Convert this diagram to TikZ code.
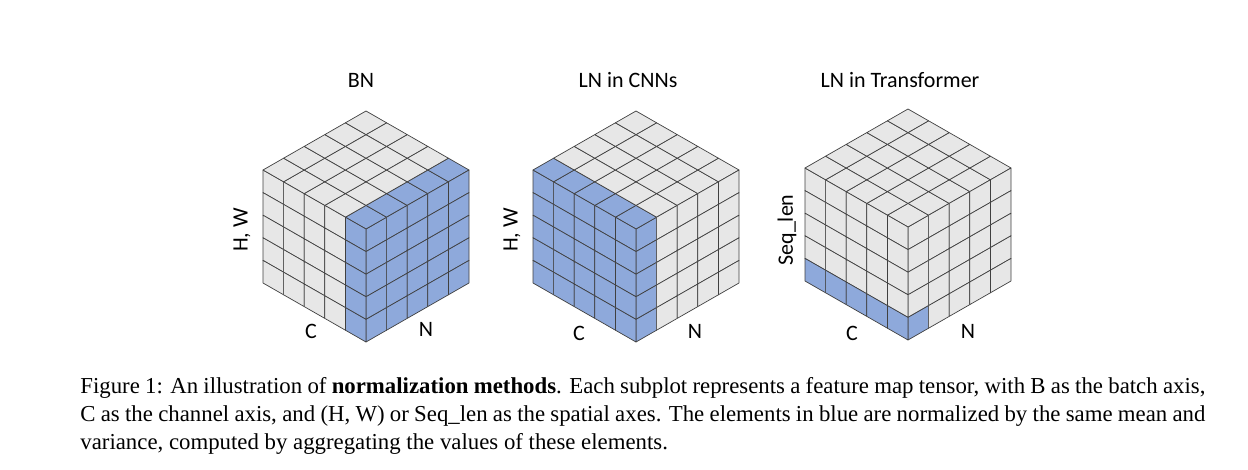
\documentclass[tikz,border=0pt]{standalone}
\usepackage{fontspec}
\setmainfont{Carlito}
\newfontfamily\capfont{Liberation Serif}
\usepackage{tikz}

\definecolor{cellgrey}{HTML}{E7E7E7}
\definecolor{normblue}{HTML}{8EA9DB}
\definecolor{edgegrey}{HTML}{404040}

% #1 front vertex, #2 left face, #3 right face, #4 top face (blue conditions)
\newcommand{\tensorcube}[4]{%
  \begin{scope}[shift={#1}]
    \foreach \a in {0,...,4} \foreach \b in {0,...,4} {
      \pgfmathtruncatemacro\hit{#2}
      \ifnum\hit=1 \def\fc{normblue}\else\def\fc{cellgrey}\fi
      \draw[cell,fill=\fc] ({20.6*(\a-5)},{11.8*(\a-5)+22.6*\b}) -- ++(20.6,11.8) -- ++(0,22.6) -- ++(-20.6,-11.8) -- cycle;
      \pgfmathtruncatemacro\hit{#3}
      \ifnum\hit=1 \def\fc{normblue}\else\def\fc{cellgrey}\fi
      \draw[cell,fill=\fc] ({20.6*\a},{-11.8*\a+22.6*\b}) -- ++(20.6,-11.8) -- ++(0,22.6) -- ++(-20.6,11.8) -- cycle;
      \pgfmathtruncatemacro\hit{#4}
      \ifnum\hit=1 \def\fc{normblue}\else\def\fc{cellgrey}\fi
      \draw[cell,fill=\fc] ({20.6*(\b-\a)},{-11.8*(\a+\b)}) -- ++(20.6,-11.8) -- ++(-20.6,-11.8) -- ++(-20.6,11.8) -- cycle;
    }
  \end{scope}}

\begin{document}
\begin{tikzpicture}[x=0.5pt,y=-0.5pt,
    cell/.style={draw=edgegrey,line width=0.35pt,line join=round},
    title/.style={font=\fontsize{11}{13}\selectfont},
    axis/.style={font=\fontsize{11}{13}\selectfont}]
  \useasboundingbox (0,0) rectangle (1248,470);

  % BN
  \tensorcube{(366,229)}{\a==4}{1}{\a==0}
  \node[title] (bn) at (361,80) {BN};
  \node[axis,rotate=90] (bnhw) at (242,230) {H, W};
  \node[axis] (bnc) at (311,331) {C};
  \node[axis] (bnn) at (426,329) {N};

  % LN in CNNs
  \tensorcube{(636,229)}{1}{\a==0}{\b==0}
  \node[title] (lncnn) at (628,80) {LN in CNNs};
  \node[axis,rotate=90] (lncnnhw) at (512,230) {H, W};
  \node[axis] (lncnnc) at (579,333) {C};
  \node[axis] (lncnnn) at (695,331) {N};

  % LN in Transformer
  \tensorcube{(908,227)}{\b==4}{and(\a==0,\b==4)}{0}
  \node[title] (lntr) at (900,80) {LN in Transformer};
  \node[axis,rotate=90] (lntrseq) at (787,230) {Seq\_len};
  \node[axis] (lntrc) at (852,333) {C};
  \node[axis] (lntrn) at (968,331) {N};

  \node[anchor=north west,inner sep=0pt,text width=562.5pt,align=justify,
        font=\capfont\fontsize{11.4}{14}\selectfont] (caption) at (80,377)
    {Figure 1: An illustration of \textbf{normalization methods}. Each subplot represents a feature map tensor, with B as the batch axis, C as the channel axis, and (H, W) or Seq\_len as the spatial axes. The elements in blue are normalized by the same mean and variance, computed by aggregating the values of these elements.};
\end{tikzpicture}
\end{document}
